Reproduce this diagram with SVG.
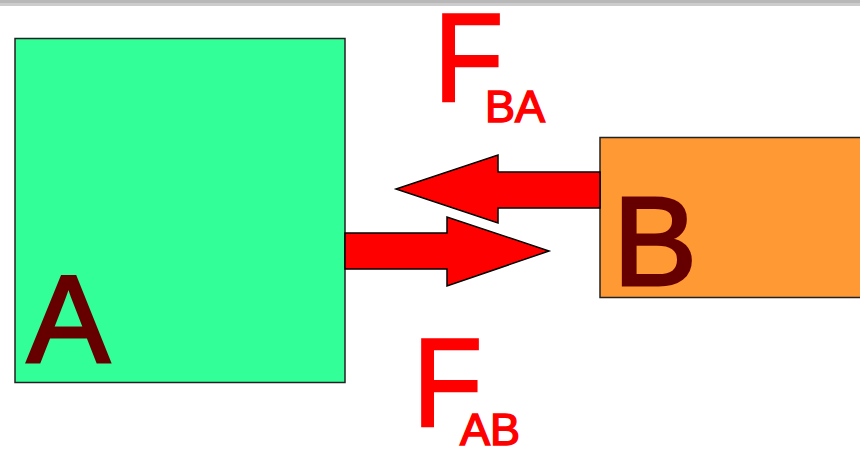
<svg xmlns="http://www.w3.org/2000/svg" width="860" height="449" viewBox="0 0 860 449">
<style>
.box{stroke:#222;stroke-width:1.5}
.lbl{font-family:"Liberation Sans",Arial,sans-serif;fill:#660000;stroke:#660000;stroke-width:3}
.f{font-family:"Liberation Sans",Arial,sans-serif;fill:#ff0000;stroke:#ff0000;stroke-width:2.5}
.s{stroke-width:1.5}
.arr{fill:#ff0000;stroke:#000;stroke-width:1.5;stroke-linejoin:miter}
</style>
<rect x="0" y="0" width="860" height="449" fill="#fff"/>
<rect x="0" y="0" width="860" height="3" fill="#b8b8b8"/>
<rect x="0" y="3" width="860" height="3" fill="#cccccc"/>
<g id="nodeA">
<rect class="box" x="15" y="38.5" width="330" height="344" fill="#33ff99"/>
<text class="lbl" x="27" y="362" font-size="124">A</text>
</g>
<g id="nodeB">
<rect class="box" x="600" y="137.5" width="270" height="160" fill="#ff9933"/>
<text class="lbl" x="613" y="285" font-size="126">B</text>
</g>
<g id="connectors">
<polygon class="arr" points="600,172 498,172 498,155 396,189 498,223 498,208 600,208"/>
<polygon class="arr" points="345,233 447,233 447,217 549,251 447,286 447,269 345,269"/>
</g>
<g id="labelFBA">
<text class="f" x="434" y="101" font-size="126" transform="translate(434 0) scale(0.9 1) translate(-434 0)">F</text>
<text class="f s" x="485" y="122" font-size="45">BA</text>
</g>
<g id="labelFAB">
<text class="f" x="413" y="426" font-size="126" transform="translate(413 0) scale(0.9 1) translate(-413 0)">F</text>
<text class="f s" x="460" y="445" font-size="45">AB</text>
</g>
</svg>
